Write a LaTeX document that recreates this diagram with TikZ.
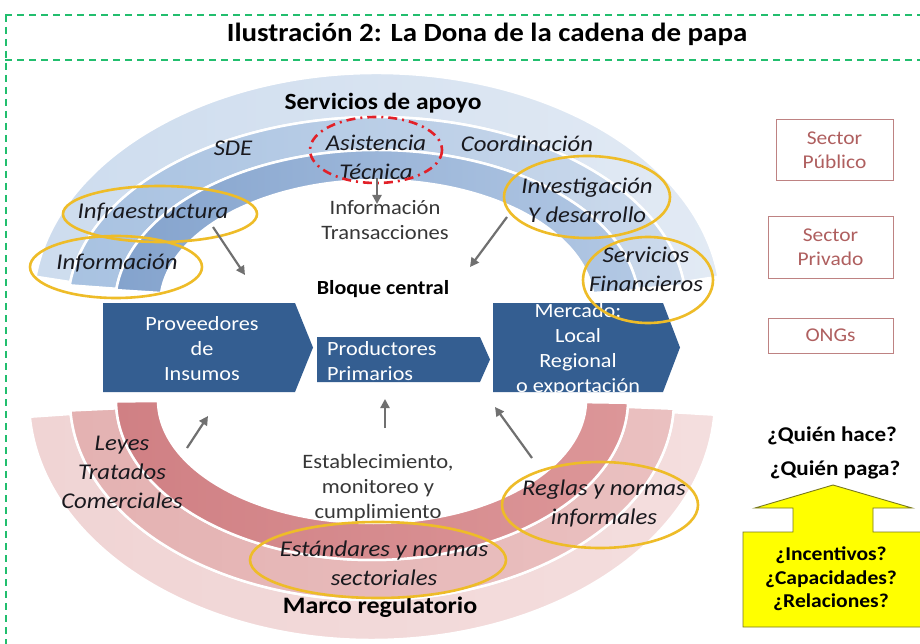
\documentclass[tikz,border=0pt]{standalone}
\usepackage{fontspec}
\setmainfont{Carlito}[FakeStretch=1.1]
\usetikzlibrary{calc,arrows.meta}
\definecolor{gframe}{RGB}{34,190,110}
\definecolor{blk}{RGB}{52,94,145}
\definecolor{tdark}{RGB}{25,25,30}
\definecolor{tgray}{RGB}{55,55,55}
\definecolor{gold}{RGB}{238,188,40}
\definecolor{redd}{RGB}{226,32,40}
\definecolor{arrg}{RGB}{112,112,112}
\definecolor{secline}{RGB}{190,130,130}
\definecolor{sectxt}{RGB}{175,95,95}
\definecolor{yel}{RGB}{255,255,0}
\definecolor{yline}{RGB}{120,120,30}
\newcommand{\myband}[7]{($(#1)+(#2:#4 and #5)$) arc[start angle=#2, end angle=#3, x radius=#4, y radius=#5] -- ($(#1)+(#3:#6 and #7)$) arc[start angle=#3, end angle=#2, x radius=#6, y radius=#7] -- cycle}
\tikzset{
  gdash/.style={gframe, line width=1.8pt, dash pattern=on 7pt off 5pt},
  bandst/.style={draw=white, line width=2.5pt},
  lbl/.style={font=\itshape\fontsize{22.5}{29}\selectfont, text=tdark, align=center, inner sep=0pt},
  reg/.style={font=\fontsize{20.5}{25}\selectfont, text=tgray, align=center, inner sep=0pt},
  bld/.style={font=\bfseries\fontsize{20}{25}\selectfont, text=black, align=center, inner sep=0pt},
  wtxt/.style={font=\fontsize{20.2}{25}\selectfont, text=white, inner sep=0pt},
  gold ell/.style={draw=gold, line width=2.6pt},
  garrow/.style={draw=arrg, line width=2.2pt, -{Triangle[length=9pt,width=9pt]}},
  secbox/.style={draw=secline, line width=1pt, text=sectxt, font=\fontsize{19.5}{24}\selectfont, align=center, inner sep=0pt},
  qtxt/.style={font=\bfseries\fontsize{19.6}{23.5}\selectfont, text=black, align=center, inner sep=0pt},
}
\begin{document}
\begin{tikzpicture}[x=1pt,y=-1pt]
\useasboundingbox (0,0) rectangle (920,644);
\fill[white] (0,0) rectangle (920,644);
% frame
\draw[gdash] (5,15) -- (920,15);
\draw[gdash] (5,60) -- (920,60);
\draw[gdash] (6,15) -- (6,644);
\node[font=\bfseries\fontsize{26.3}{28}\selectfont] (title) at (487,34) {Ilustración 2: La Dona de la cadena de papa};
% top donut
\coordinate (tc) at (377,305);
\shadedraw[bandst, left color={rgb,255:red,205;green,220;blue,238}, right color={rgb,255:red,226;green,234;blue,244}] \myband{tc}{187}{353}{344}{232}{309}{188};
\shadedraw[bandst, left color={rgb,255:red,168;green,194;blue,225}, right color={rgb,255:red,204;green,218;blue,236}] \myband{tc}{186}{354}{309}{188}{262}{155};
\shadedraw[bandst, left color={rgb,255:red,132;green,163;blue,205}, right color={rgb,255:red,178;green,200;blue,228}] \myband{tc}{185.5}{354.5}{262}{155}{217}{125};
% bottom donut
\coordinate (bc) at (372,400);
\shadedraw[bandst, left color={rgb,255:red,240;green,212;blue,212}, right color={rgb,255:red,244;green,222;blue,222}] \myband{bc}{176}{3.5}{343}{240}{302}{200};
\shadedraw[bandst, left color={rgb,255:red,228;green,178;blue,178}, right color={rgb,255:red,234;green,192;blue,192}] \myband{bc}{177}{2.5}{302}{200}{256}{160};
\shadedraw[bandst, left color={rgb,255:red,208;green,128;blue,132}, right color={rgb,255:red,220;green,150;blue,152}] \myband{bc}{179.5}{1}{256}{160}{214}{123};
% central blocks
\fill[blk] (103,303) -- (295,303) -- (313,347.5) -- (295,392) -- (103,392) -- cycle;
\fill[blk] (317,337) -- (480,337) -- (490,359.5) -- (480,382) -- (317,382) -- cycle;
\fill[blk] (493,303) -- (663,303) -- (680,347.5) -- (663,392) -- (493,392) -- cycle;
\node[wtxt, align=center] (prov) at (202,349) {Proveedores\\de\\Insumos};
\node[wtxt, align=left, anchor=west] (prod) at (327,361) {Productores\\Primarios};
\node[wtxt, align=center] (merc) at (578,350) {Mercado:\\Local\\Regional\\o exportación};
% top texts
\node[bld, font=\bfseries\fontsize{23.2}{26}\selectfont] (serv) at (383,103) {Servicios de apoyo};
\node[lbl] (sde) at (233,148) {SDE};
\node[lbl] (asist) at (376,157) {Asistencia\\Técnica};
\node[lbl] (coord) at (527,144) {Coordinación};
\node[lbl] (infra) at (153,212) {Infraestructura};
\node[lbl] (info) at (117,263) {Información};
\node[reg] (infotr) at (385,220) {Información\\Transacciones};
\node[bld] (bloque) at (383,289) {Bloque central};
\node[lbl] (invest) at (587,200) {Investigación\\Y desarrollo};
\node[lbl] (servfin) at (646,269) {Servicios\\Financieros};
% bottom texts
\node[lbl] (leyes) at (122,472) {Leyes\\Tratados\\Comerciales};
\node[reg] (estab) at (378,488) {Establecimiento,\\monitoreo y\\cumplimiento};
\node[lbl] (estand) at (384,563) {Estándares y normas\\sectoriales};
\node[bld, font=\bfseries\fontsize{23.6}{26}\selectfont] (marco) at (380,607) {Marco regulatorio};
\node[lbl] (reglas) at (604,504) {Reglas y normas\\informales};
% ellipses
\draw[gold ell] (160,214) ellipse[x radius=97, y radius=28];
\draw[gold ell] (116,267) ellipse[x radius=86, y radius=31];
\draw[gold ell] (587,197) ellipse[x radius=83, y radius=41];
\draw[gold ell] (648,280) ellipse[x radius=65, y radius=43];
\draw[gold ell] (378,560) ellipse[x radius=128, y radius=38];
\draw[gold ell] (600,505) ellipse[x radius=98, y radius=43];
\draw[redd, line width=2.6pt, dash pattern=on 9pt off 5pt on 2pt off 5pt] (376,150) ellipse[x radius=66, y radius=33];
% arrows
\coordinate (a1s) at (377,178); \coordinate (a1e) at (377,204);
\coordinate (a2s) at (213,227); \coordinate (a2e) at (245,275);
\coordinate (a3s) at (507,217); \coordinate (a3e) at (470,267);
\coordinate (a4s) at (187,448); \coordinate (a4e) at (208,416);
\coordinate (a5s) at (385,428); \coordinate (a5e) at (385,399);
\coordinate (a6s) at (532,458); \coordinate (a6e) at (495,407);
\draw[garrow] (a1s) -- (a1e);
\draw[garrow] (a2s) -- (a2e);
\draw[garrow] (a3s) -- (a3e);
\draw[garrow] (a4s) -- (a4e);
\draw[garrow] (a5s) -- (a5e);
\draw[garrow] (a6s) -- (a6e);
% right side
\node[secbox, minimum width=117pt, minimum height=61pt] (spub) at (834.5,150.5) {Sector\\Público};
\node[secbox, minimum width=125pt, minimum height=61pt] (spriv) at (830.5,247.5) {Sector\\Privado};
\node[secbox, minimum width=125pt, minimum height=35pt] (ongs) at (830.5,335.5) {ONGs};
\node[qtxt, font=\bfseries\fontsize{21}{24}\selectfont] (qhace) at (832,436) {¿Quién hace?};
\node[qtxt, font=\bfseries\fontsize{21}{24}\selectfont] (qpaga) at (835,470) {¿Quién paga?};
\filldraw[fill=yel, draw=yline, line width=0.9pt] (833,485) -- (912,508) -- (873,508) -- (873,532) -- (923,532) -- (923,627) -- (743,627) -- (743,532) -- (793,532) -- (793,508) -- (755,508) -- cycle;
\node[qtxt] (preg) at (831,579) {¿Incentivos?\\¿Capacidades?\\¿Relaciones?};
\end{tikzpicture}
\end{document}
